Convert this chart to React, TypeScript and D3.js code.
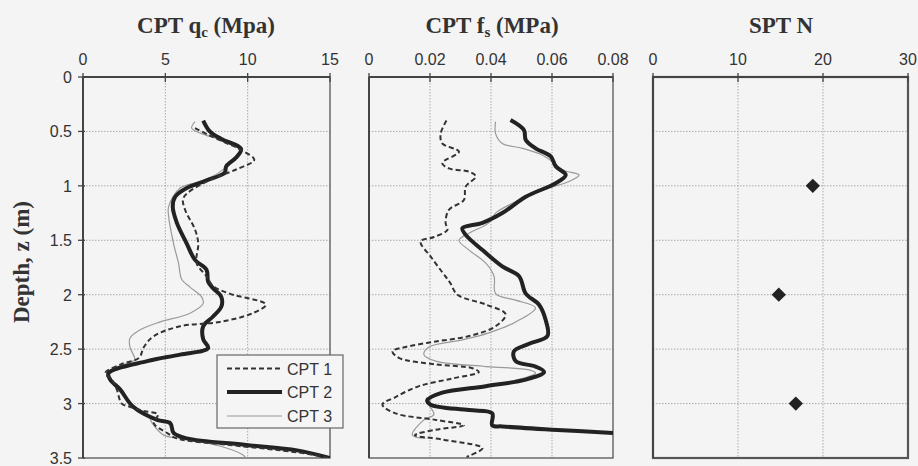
import React from "react";
import * as d3 from "d3";

// depth (m) readings
const depthTicks = [0, 0.5, 1, 1.5, 2, 2.5, 3, 3.5];
const depthLabels = ["0", "0.5", "1", "1.5", "2", "2.5", "3", "3.5"];

const qcTicks = [0, 5, 10, 15];
const fsTicks = [0, 0.02, 0.04, 0.06, 0.08];
const fsLabels = ["0", "0.02", "0.04", "0.06", "0.08"];
const nTicks = [0, 10, 20, 30];

const seriesNames = ["CPT 1", "CPT 2", "CPT 3"];

// CPT qc (MPa) as [value, depth]
const qc1: [number, number][] = [
  [6.8, 0.47], [7.6, 0.53], [8.6, 0.6], [9.6, 0.67], [10.4, 0.76], [9.3, 0.85], [7.5, 0.96],
  [6.1, 1.11], [6.2, 1.22], [6.8, 1.4], [7.0, 1.53], [6.9, 1.71], [7.5, 1.83], [7.9, 1.92],
  [8.9, 1.99], [11.1, 2.09], [10.3, 2.17], [8.3, 2.25], [5.9, 2.29], [4.3, 2.38], [3.7, 2.48],
  [3.4, 2.58], [2.3, 2.64], [1.35, 2.72], [1.75, 2.78], [2.05, 2.87], [2.35, 3.0], [2.85, 3.03],
  [3.75, 3.07], [4.55, 3.1], [4.3, 3.18], [5.1, 3.27], [5.7, 3.32], [8.9, 3.38], [12.0, 3.43],
  [14.0, 3.47], [14.9, 3.5],
];
const qc2: [number, number][] = [
  [7.3, 0.4], [7.7, 0.5], [8.4, 0.57], [9.6, 0.66], [9.3, 0.74], [8.7, 0.82], [8.6, 0.88],
  [7.5, 0.95], [6.3, 1.02], [5.6, 1.1], [5.45, 1.19], [5.7, 1.34], [6.3, 1.53], [6.8, 1.68],
  [7.5, 1.77], [7.6, 1.88], [7.9, 1.94], [8.4, 2.02], [8.4, 2.11], [7.9, 2.2], [7.3, 2.29],
  [7.3, 2.41], [7.6, 2.49], [5.9, 2.55], [3.9, 2.61], [1.55, 2.72], [1.65, 2.78], [2.25, 2.87],
  [3.05, 3.03], [4.5, 3.15], [5.3, 3.18], [5.5, 3.27], [6.3, 3.32], [9.9, 3.38], [13.0, 3.43],
  [15.0, 3.5],
];
const qc3: [number, number][] = [
  [6.8, 0.41], [6.6, 0.47], [7.2, 0.52], [8.4, 0.58], [9.5, 0.67], [9.2, 0.75], [8.7, 0.83],
  [7.4, 0.95], [5.9, 1.02], [5.2, 1.19], [5.2, 1.28], [5.5, 1.53], [5.8, 1.71], [6.0, 1.86],
  [6.5, 1.93], [7.2, 2.02], [7.3, 2.08], [6.5, 2.17], [4.7, 2.25], [3.5, 2.32], [2.85, 2.4],
  [2.85, 2.48], [3.15, 2.6], [2.85, 2.62], [1.45, 2.72], [1.75, 2.78], [2.45, 2.9], [3.05, 3.03],
  [3.9, 3.09], [4.2, 3.18], [4.9, 3.29], [5.9, 3.32], [8.3, 3.39], [9.7, 3.47], [9.9, 3.5],
];

// CPT fs (MPa) as [value, depth]
const fs1: [number, number][] = [
  [0.0254, 0.4], [0.0235, 0.52], [0.024, 0.61], [0.0295, 0.686], [0.024, 0.79], [0.0262, 0.84],
  [0.0328, 0.87], [0.035, 0.915], [0.0317, 1.007], [0.0311, 1.13], [0.0262, 1.22], [0.0251, 1.34],
  [0.0257, 1.405], [0.0213, 1.47], [0.0169, 1.51], [0.0205, 1.66], [0.025, 1.83], [0.0266, 1.89],
  [0.029, 2.0], [0.0383, 2.09], [0.0448, 2.18], [0.0415, 2.29], [0.0328, 2.38], [0.0219, 2.43],
  [0.012, 2.48], [0.0077, 2.52], [0.0098, 2.58], [0.0219, 2.64], [0.0339, 2.675], [0.036, 2.71],
  [0.0273, 2.77], [0.0164, 2.84], [0.0087, 2.94], [0.0044, 3.01], [0.0087, 3.09], [0.0219, 3.15],
  [0.0311, 3.2], [0.0219, 3.24], [0.0150, 3.29], [0.024, 3.33], [0.0372, 3.41], [0.032, 3.49],
];
const fs2: [number, number][] = [
  [0.0464, 0.395], [0.0508, 0.487], [0.0514, 0.578], [0.0546, 0.655], [0.0596, 0.73],
  [0.0612, 0.82], [0.0645, 0.9], [0.0612, 0.976], [0.0514, 1.1], [0.0437, 1.25], [0.0372, 1.34],
  [0.0306, 1.39], [0.0317, 1.45], [0.0372, 1.59], [0.0437, 1.74], [0.0492, 1.83], [0.0514, 1.99],
  [0.0557, 2.09], [0.0579, 2.23], [0.0585, 2.38], [0.0525, 2.45], [0.0475, 2.52], [0.0481, 2.61],
  [0.0546, 2.66], [0.0574, 2.71], [0.0514, 2.78], [0.0383, 2.84], [0.024, 2.9], [0.0191, 2.97],
  [0.0202, 3.01], [0.0328, 3.06], [0.0404, 3.09], [0.0404, 3.2], [0.0437, 3.21], [0.0601, 3.24],
  [0.08, 3.27],
];
const fs3: [number, number][] = [
  [0.0415, 0.41], [0.0415, 0.52], [0.0437, 0.61], [0.0503, 0.655], [0.0568, 0.716],
  [0.0607, 0.79], [0.0634, 0.854], [0.0689, 0.9], [0.0656, 0.96], [0.059, 1.02], [0.0514, 1.1],
  [0.047, 1.16], [0.0415, 1.25], [0.0393, 1.34], [0.0328, 1.435], [0.0295, 1.5], [0.0328, 1.59],
  [0.0383, 1.71], [0.041, 1.83], [0.0415, 1.99], [0.0481, 2.05], [0.0546, 2.12], [0.0481, 2.25],
  [0.0393, 2.35], [0.0306, 2.415], [0.0197, 2.48], [0.018, 2.55], [0.0219, 2.61], [0.0383, 2.66],
  [0.0525, 2.69], [0.0546, 2.72], [0.0459, 2.8], [0.0317, 2.86], [0.0219, 2.92], [0.0197, 3.0],
  [0.0213, 3.1], [0.018, 3.15], [0.0142, 3.29], [0.0185, 3.32],
];

// SPT N as [value, depth]
const spt: [number, number][] = [[18.8, 1.0], [14.8, 2.0], [16.8, 3.0]];

const W = 918;
const H = 466;
const top = 77;
const bottom = 458;
const sans = "Arial, 'Liberation Sans', sans-serif";
const serif = "'Times New Roman', 'Liberation Serif', serif";

const styles = [
  { stroke: "#333", width: 2, dash: "5,3" },
  { stroke: "#222", width: 4, dash: "" },
  { stroke: "#9a9a9a", width: 1.2, dash: "" },
];

function Panel(props: any) {
  const { x0, x1, domain, ticks, labels, series, points, yLabels, id, thick } = props;
  const x = d3.scaleLinear().domain(domain).range([x0, x1]);
  const y = d3.scaleLinear().domain([0, 3.5]).range([top, bottom]);
  const line = d3
    .line<[number, number]>()
    .x((d) => x(d[0]))
    .y((d) => y(d[1]))
    .curve(d3.curveCatmullRom.alpha(0.5));
  return (
    <g>
      <defs>
        <clipPath id={id}>
          <rect x={x0} y={top} width={x1 - x0} height={bottom - top} />
        </clipPath>
      </defs>
      {ticks.slice(1, -1).map((t: number) => (
        <line key={"gx" + t} x1={x(t)} x2={x(t)} y1={top} y2={bottom} stroke="#aaa" strokeWidth={1} strokeDasharray="1.5,1.5" />
      ))}
      {depthTicks.slice(1, -1).map((t) => (
        <line key={"gy" + t} x1={x0} x2={x1} y1={y(t)} y2={y(t)} stroke="#aaa" strokeWidth={1} strokeDasharray="1.5,1.5" />
      ))}
      <rect x={x0} y={top} width={x1 - x0} height={bottom - top} fill="none" stroke="#555" strokeWidth={thick ? 2.2 : 1.3} />
      <line x1={x0} x2={x1} y1={top} y2={top} stroke="#444" strokeWidth={2} />
      <line x1={x0} x2={x0} y1={top} y2={bottom} stroke="#444" strokeWidth={2} />
      {ticks.map((t: number, i: number) => (
        <g key={"tx" + t}>
          <line x1={x(t)} x2={x(t)} y1={top - 4} y2={top + 5} stroke="#444" strokeWidth={1.3} />
          <text x={x(t)} y={65} textAnchor="middle" fontFamily={sans} fontSize={16} fill="#333">
            {labels ? labels[i] : t}
          </text>
        </g>
      ))}
      {yLabels &&
        depthTicks.map((t, i) => (
          <g key={"ty" + t}>
            <line x1={x0 - 5} x2={x0 + 2} y1={y(t)} y2={y(t)} stroke="#444" strokeWidth={1.3} />
            <text x={72} y={y(t) + 6} textAnchor="end" fontFamily={sans} fontSize={16} fill="#333">
              {depthLabels[i]}
            </text>
          </g>
        ))}
      <g clipPath={`url(#${id})`}>
        {series &&
          series
            .map((s: [number, number][], i: number) => ({ s, i }))
            .reverse()
            .map(({ s, i }: any) => (
              <path
                key={i}
                d={line(s) || ""}
                fill="none"
                stroke={styles[i].stroke}
                strokeWidth={styles[i].width}
                strokeDasharray={styles[i].dash}
                strokeLinejoin="round"
              />
            ))}
      </g>
      {points &&
        points.map((p: [number, number], i: number) => (
          <path
            key={i}
            d={d3.symbol(d3.symbolDiamond2, 130)() || ""}
            transform={`translate(${x(p[0])},${y(p[1])})`}
            fill="#222"
          />
        ))}
    </g>
  );
}

function Legend() {
  const lx = 217;
  const ly = 355;
  const rows = [368.5, 392, 416];
  return (
    <g>
      <rect x={lx} y={ly} width={126} height={73} fill="#f5f5f5" stroke="#666" strokeWidth={1.2} />
      {seriesNames.map((n, i) => (
        <g key={n}>
          <line x1={227} x2={282} y1={rows[i]} y2={rows[i]} stroke={styles[i].stroke} strokeWidth={styles[i].width} strokeDasharray={styles[i].dash} />
          <text x={287} y={rows[i] + 6} fontFamily={sans} fontSize={16} fill="#333">
            {n}
          </text>
        </g>
      ))}
    </g>
  );
}

export default function App() {
  return (
    <svg width={W} height={H} style={{ display: "block", position: "absolute", left: 0, top: 0 }}>
      <rect width={W} height={H} fill="#f4f4f4" />
      <text x={206} y={33} textAnchor="middle" fontFamily={serif} fontWeight="bold" fontSize={23} fill="#333">
        CPT q<tspan fontSize={15} dy={4}>c</tspan>
        <tspan dy={-4}> (Mpa)</tspan>
      </text>
      <text x={492} y={33} textAnchor="middle" fontFamily={serif} fontWeight="bold" fontSize={23} fill="#333">
        CPT f<tspan fontSize={15} dy={4}>s</tspan>
        <tspan dy={-4}> (MPa)</tspan>
      </text>
      <text x={781} y={33} textAnchor="middle" fontFamily={serif} fontWeight="bold" fontSize={23} fill="#333">
        SPT N
      </text>
      <text transform="translate(29,262) rotate(-90)" textAnchor="middle" fontFamily={serif} fontWeight="bold" fontSize={23} fill="#333">
        Depth, z (m)
      </text>
      <Panel id="c1" x0={83} x1={330} domain={[0, 15]} ticks={qcTicks} series={[qc1, qc2, qc3]} yLabels />
      <Panel id="c2" x0={369} x1={613} domain={[0, 0.08]} ticks={fsTicks} labels={fsLabels} series={[fs1, fs2, fs3]} />
      <Panel id="c3" x0={653} x1={908} domain={[0, 30]} ticks={nTicks} points={spt} thick />
      <Legend />
    </svg>
  );
}
